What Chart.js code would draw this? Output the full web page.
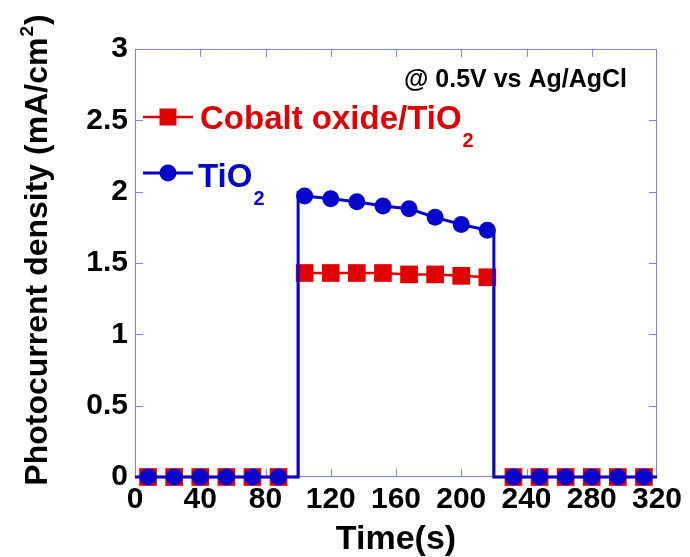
<!DOCTYPE html>
<html>
<head>
<meta charset="utf-8">
<script src="https://cdn.jsdelivr.net/npm/chart.js@4"></script>
<style>
  html, body { margin: 0; padding: 0; background: #ffffff; }
  #c { display: block; }
</style>
</head>
<body>
<canvas id="c" width="690" height="557"></canvas>
<script>
// ---- data ----
const markerTimesOffBefore = [8, 24, 40, 56, 72, 88];
const markerTimesOn = [104, 120, 136, 152, 168, 184, 200, 216];
const markerTimesOffAfter = [232, 248, 264, 280, 296, 312];
const tio2On = [1.97, 1.95, 1.93, 1.90, 1.88, 1.82, 1.77, 1.73];
const cobaltOn = [1.43, 1.43, 1.43, 1.43, 1.42, 1.42, 1.41, 1.40];
const darkValue = 0;
const lightSwitchTimes = [100, 220];      // light on, light off
const tio2Edges = [1.99, 1.72];           // current right after on / right before off
const cobaltEdges = [1.43, 1.40];
const timeRange = [0, 320];
const xTickLabels = ['0', '40', '80', '120', '160', '200', '240', '280', '320'];
const yTickLabels = ['0', '0.5', '1', '1.5', '2', '2.5', '3'];
const seriesNames = ['Cobalt oxide/TiO', 'TiO'];
const annotationText = '@ 0.5V vs Ag/AgCl';

// ---- build datasets ----
function markers(onVals) {
  const pts = [];
  markerTimesOffBefore.forEach(t => pts.push({ x: t, y: darkValue }));
  markerTimesOn.forEach((t, i) => pts.push({ x: t, y: onVals[i] }));
  markerTimesOffAfter.forEach(t => pts.push({ x: t, y: darkValue }));
  return pts;
}
function trace(onVals, edges) {
  const pts = [{ x: timeRange[0], y: darkValue }, { x: lightSwitchTimes[0], y: darkValue },
               { x: lightSwitchTimes[0], y: edges[0] }];
  markerTimesOn.forEach((t, i) => pts.push({ x: t, y: onVals[i] }));
  pts.push({ x: lightSwitchTimes[1], y: edges[1] });
  pts.push({ x: lightSwitchTimes[1], y: darkValue });
  pts.push({ x: timeRange[1], y: darkValue });
  return pts;
}

const RED = '#e00000';
const BLUE = '#0505cc';
const FRAME = '#8282e6';

const framePlugin = {
  id: 'frame',
  beforeDatasetsDraw(chart) {
    const { ctx, chartArea: a, scales: { x, y } } = chart;
    ctx.save();
    ctx.strokeStyle = FRAME;
    ctx.lineWidth = 1;
    ctx.strokeRect(a.left + 0.5, a.top + 0.5, a.right - a.left - 1, a.bottom - a.top - 1);
    const tl = 8;
    ctx.beginPath();
    x.ticks.forEach(t => {
      if (t.value <= timeRange[0] || t.value >= timeRange[1]) return;
      const px = Math.round(x.getPixelForValue(t.value)) + 0.5;
      ctx.moveTo(px, a.bottom); ctx.lineTo(px, a.bottom - tl);
      ctx.moveTo(px, a.top); ctx.lineTo(px, a.top + tl);
    });
    y.ticks.forEach(t => {
      if (t.value <= 0 || t.value >= 3) return;
      const py = Math.round(y.getPixelForValue(t.value)) + 0.5;
      ctx.moveTo(a.left, py); ctx.lineTo(a.left + tl, py);
      ctx.moveTo(a.right, py); ctx.lineTo(a.right - tl, py);
    });
    ctx.stroke();
    ctx.restore();
  },
  afterDraw(chart) {
    const { ctx, chartArea: a } = chart;
    const F = 'Liberation Sans, Arial, sans-serif';
    ctx.save();
    ctx.textBaseline = 'alphabetic';

    // annotation
    ctx.fillStyle = '#000';
    ctx.font = 'bold 25px ' + F;
    ctx.textAlign = 'right';
    ctx.fillText(annotationText, 627, 87);

    // legend
    ctx.textAlign = 'left';
    // red entry
    ctx.strokeStyle = RED; ctx.lineWidth = 2.5;
    ctx.beginPath(); ctx.moveTo(143, 117); ctx.lineTo(193, 117); ctx.stroke();
    ctx.fillStyle = RED; ctx.fillRect(168 - 8.5, 117 - 8.5, 17, 17);
    ctx.font = 'bold 33px ' + F;
    ctx.fillText(seriesNames[0], 200, 129);
    let w = ctx.measureText(seriesNames[0]).width;
    ctx.font = 'bold 20px ' + F;
    ctx.fillText('2', 200 + w + 1, 147);
    // blue entry
    ctx.strokeStyle = BLUE; ctx.lineWidth = 3;
    ctx.beginPath(); ctx.moveTo(143, 173); ctx.lineTo(193, 173); ctx.stroke();
    ctx.fillStyle = BLUE; ctx.beginPath(); ctx.arc(168, 173, 8.5, 0, Math.PI * 2); ctx.fill();
    ctx.font = 'bold 33px ' + F;
    ctx.fillText(seriesNames[1], 198, 187);
    w = ctx.measureText(seriesNames[1]).width;
    ctx.font = 'bold 20px ' + F;
    ctx.fillText('2', 198 + w + 1, 205);

    // x title
    ctx.fillStyle = '#000';
    ctx.font = 'bold 34px ' + F;
    ctx.textAlign = 'center';
    ctx.fillText('Time(s)', (a.left + a.right) / 2, 549);

    // y title (rotated, with superscript)
    const main = 'Photocurrent density (mA/cm';
    ctx.font = 'bold 32px ' + F;
    const w1 = ctx.measureText(main).width;
    ctx.font = 'bold 19px ' + F;
    const w2 = ctx.measureText('2').width;
    ctx.font = 'bold 32px ' + F;
    const w3 = ctx.measureText(')').width;
    const total = w1 + w2 + 2 + w3;
    ctx.translate(47, 250);
    ctx.rotate(-Math.PI / 2);
    ctx.textAlign = 'left';
    let sx = -total / 2;
    ctx.fillText(main, sx, 0);
    sx += w1 + 1;
    ctx.font = 'bold 19px ' + F;
    ctx.fillText('2', sx, -14);
    sx += w2 + 1;
    ctx.font = 'bold 32px ' + F;
    ctx.fillText(')', sx, 0);
    ctx.restore();
  }
};

new Chart(document.getElementById('c'), {
  type: 'scatter',
  data: {
    datasets: [
      { label: 'TiO2 markers', data: markers(tio2On), showLine: false,
        pointStyle: 'circle', pointRadius: 8.5, pointHoverRadius: 8.5,
        backgroundColor: BLUE, borderColor: BLUE, borderWidth: 0, clip: false },
      { label: 'TiO2', data: trace(tio2On, tio2Edges), showLine: true,
        pointRadius: 0, borderColor: BLUE, borderWidth: 3, backgroundColor: BLUE, clip: false },
      { label: 'Cobalt markers', data: markers(cobaltOn), showLine: false,
        pointStyle: 'rect', pointRadius: 12.5, pointHoverRadius: 12.5,
        backgroundColor: RED, borderColor: RED, borderWidth: 0, clip: false },
      { label: 'Cobalt oxide/TiO2', data: trace(cobaltOn, cobaltEdges), showLine: true,
        pointRadius: 0, borderColor: RED, borderWidth: 2.5, backgroundColor: RED, clip: false }
    ]
  },
  options: {
    responsive: false,
    animation: false,
    devicePixelRatio: 1,
    layout: { padding: { top: 49, right: 33, left: 0, bottom: 0 } },
    plugins: { legend: { display: false }, tooltip: { enabled: false } },
    scales: {
      x: {
        type: 'linear', min: timeRange[0], max: timeRange[1],
        grid: { display: false, drawTicks: false }, border: { display: false },
        afterFit(s) { s.height = 80; },
        afterBuildTicks(s) { s.ticks = xTickLabels.map(v => ({ value: Number(v) })); },
        ticks: {
          stepSize: 40, autoSkip: false, maxRotation: 0, padding: 5,
          color: '#000', font: { family: 'Liberation Sans', weight: 'bold', size: 30 },
          callback: (v, i) => xTickLabels[i]
        }
      },
      y: {
        type: 'linear', min: 0, max: 3,
        grid: { display: false, drawTicks: false }, border: { display: false },
        afterFit(s) { s.width = 135; },
        afterBuildTicks(s) { s.ticks = yTickLabels.map(v => ({ value: Number(v) })); },
        ticks: {
          stepSize: 0.5, padding: 7,
          color: '#000', font: { family: 'Liberation Sans', weight: 'bold', size: 30 },
          callback: (v, i) => yTickLabels[i]
        }
      }
    }
  },
  plugins: [framePlugin]
});
</script>
</body>
</html>
